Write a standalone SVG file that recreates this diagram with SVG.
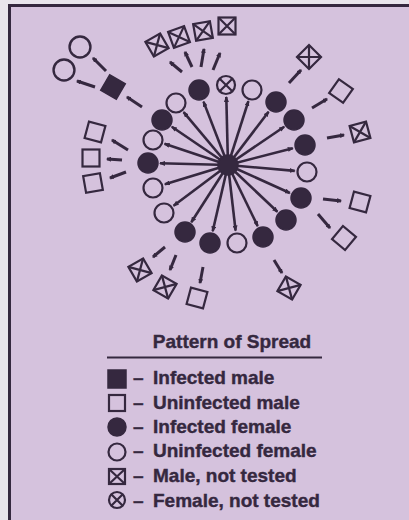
<svg xmlns="http://www.w3.org/2000/svg" xmlns:xlink="http://www.w3.org/1999/xlink" width="409" height="520" viewBox="0 0 409 520">
<style>
.ink{stroke:#35283f;stroke-width:2.2;fill:none}
.fill{fill:#35283f;stroke:#35283f;stroke-width:1.5}
.open{fill:none;stroke:#35283f;stroke-width:2.2}
.spoke{stroke:#35283f;stroke-width:2.6;fill:none;marker-end:url(#ah)}
.link{stroke:#35283f;stroke-width:3;fill:none;marker-end:url(#ah2)}
text{font-family:"Liberation Sans",Arial,sans-serif;font-weight:bold;fill:#35283f;stroke:#35283f;stroke-width:0.4;font-size:19px}
</style>
<defs>
<marker id="ah" markerUnits="userSpaceOnUse" markerWidth="6" markerHeight="5" refX="5" refY="2.5" orient="auto">
<path d="M0,0 L6,2.5 L0,5 z" fill="#35283f"/>
</marker>
<marker id="ah2" markerUnits="userSpaceOnUse" markerWidth="5" markerHeight="5" refX="4" refY="2.5" orient="auto">
<path d="M0,0 L5,2.5 L0,5 z" fill="#35283f"/>
</marker>
<g id="sq"><rect x="-8.5" y="-8.5" width="17" height="17" class="open"/></g>
<g id="sqx"><rect x="-8.5" y="-8.5" width="17" height="17" class="open"/><path d="M-8.5,-8.5 L8.5,8.5 M8.5,-8.5 L-8.5,8.5" class="ink" stroke-width="1.6"/></g>
<g id="sqf"><rect x="-9" y="-9" width="18" height="18" class="fill"/></g>
<g id="cf"><circle r="10" class="fill"/></g>
<g id="co"><circle r="9.5" class="open"/></g>
<g id="cx"><circle r="9" class="open"/><path d="M-6.3,-6.3 L6.3,6.3 M6.3,-6.3 L-6.3,6.3" class="ink" stroke-width="1.6"/></g>
</defs>
<rect width="409" height="520" fill="#e9e5ec"/>
<rect x="9" y="5" width="400" height="515" fill="#d5c2dd"/>
<path d="M9.5,520 L9.5,5.5 L409,5.5" fill="none" stroke="#35283f" stroke-width="3"/>

<g id="connectors">
<line class="spoke" x1="228" y1="165" x2="226.3" y2="97"/>
<line class="spoke" x1="228" y1="165" x2="203.5" y2="101.6"/>
<line class="spoke" x1="228" y1="165" x2="248.4" y2="101.1"/>
<line class="spoke" x1="228" y1="165" x2="268.6" y2="111.7"/>
<line class="spoke" x1="228" y1="165" x2="183.6" y2="112.1"/>
<line class="spoke" x1="228" y1="165" x2="171.8" y2="126.7"/>
<line class="spoke" x1="228" y1="165" x2="284.2" y2="126.7"/>
<line class="spoke" x1="228" y1="165" x2="164.5" y2="143.8"/>
<line class="spoke" x1="228" y1="165" x2="292.8" y2="148.2"/>
<line class="spoke" x1="228" y1="165" x2="160" y2="163.3"/>
<line class="spoke" x1="228" y1="165" x2="294.7" y2="170.9"/>
<line class="spoke" x1="228" y1="165" x2="164.9" y2="184.3"/>
<line class="spoke" x1="228" y1="165" x2="289.9" y2="193"/>
<line class="spoke" x1="228" y1="165" x2="173.6" y2="205.8"/>
<line class="spoke" x1="228" y1="165" x2="277.4" y2="211.8"/>
<line class="spoke" x1="228" y1="165" x2="191.3" y2="222.2"/>
<line class="spoke" x1="228" y1="165" x2="257.7" y2="226.1"/>
<line class="spoke" x1="228" y1="165" x2="212.7" y2="231.3"/>
<line class="spoke" x1="228" y1="165" x2="235.6" y2="230.6"/>

<line class="link" x1="142" y1="107" x2="127" y2="97"/>
<line class="link" x1="106" y1="71" x2="93" y2="58"/>
<line class="link" x1="95" y1="87" x2="77" y2="81"/>
<line class="link" x1="128" y1="150" x2="112" y2="140"/>
<line class="link" x1="122" y1="160" x2="107" y2="159"/>
<line class="link" x1="126" y1="172" x2="110" y2="178"/>
<line class="link" x1="182" y1="72" x2="170" y2="62"/>
<line class="link" x1="192" y1="67" x2="185" y2="52"/>
<line class="link" x1="201" y1="67" x2="204" y2="49"/>
<line class="link" x1="213" y1="70" x2="220" y2="53"/>
<line class="link" x1="289" y1="83" x2="301" y2="70"/>
<line class="link" x1="312" y1="108" x2="327" y2="99"/>
<line class="link" x1="327" y1="138" x2="344" y2="135"/>
<line class="link" x1="323" y1="199" x2="341" y2="201"/>
<line class="link" x1="318" y1="214" x2="330" y2="228"/>
<line class="link" x1="274" y1="260" x2="282" y2="273"/>
<line class="link" x1="165" y1="247" x2="153" y2="257"/>
<line class="link" x1="176" y1="255" x2="170" y2="270"/>
<line class="link" x1="203" y1="267" x2="200" y2="283"/>
</g>

<g id="hub"><circle cx="228" cy="165" r="10" class="fill"/></g>

<g id="ring">
<g id="r1"><use xlink:href="#cx" x="226" y="85"/></g>
<g id="r2"><use xlink:href="#cf" x="199" y="90"/></g>
<g id="r3"><use xlink:href="#co" x="252" y="90"/></g>
<g id="r4"><use xlink:href="#cf" x="276" y="102"/></g>
<g id="r5"><use xlink:href="#co" x="176" y="103"/></g>
<g id="r6"><use xlink:href="#cf" x="162" y="120"/></g>
<g id="r7"><use xlink:href="#cf" x="294" y="120"/></g>
<g id="r8"><use xlink:href="#co" x="153" y="140"/></g>
<g id="r9"><use xlink:href="#cf" x="305" y="145"/></g>
<g id="r10"><use xlink:href="#cf" x="148" y="163"/></g>
<g id="r11"><use xlink:href="#co" x="307" y="172"/></g>
<g id="r12"><use xlink:href="#co" x="153" y="188"/></g>
<g id="r13"><use xlink:href="#cf" x="301" y="198"/></g>
<g id="r14"><use xlink:href="#co" x="164" y="213"/></g>
<g id="r15"><use xlink:href="#cf" x="286" y="220"/></g>
<g id="r16"><use xlink:href="#cf" x="185" y="232"/></g>
<g id="r17"><use xlink:href="#cf" x="263" y="237"/></g>
<g id="r18"><use xlink:href="#cf" x="210" y="243"/></g>
<g id="r19"><use xlink:href="#co" x="237" y="243"/></g>
</g>

<g id="outer">
<g id="o1"><use xlink:href="#sqf" transform="translate(113,87) rotate(30)"/></g>
<g id="o2"><use xlink:href="#co" transform="translate(80,47) scale(1.1)"/></g>
<g id="o3"><use xlink:href="#co" transform="translate(64,70) scale(1.1)"/></g>
<g id="o4"><use xlink:href="#sq" transform="translate(95,132) rotate(15)"/></g>
<g id="o5"><use xlink:href="#sq" transform="translate(91,158)"/></g>
<g id="o6"><use xlink:href="#sq" transform="translate(93,183) rotate(-10)"/></g>
<g id="o7"><use xlink:href="#sqx" transform="translate(157,45) rotate(-30)"/></g>
<g id="o8"><use xlink:href="#sqx" transform="translate(179,37) rotate(-20)"/></g>
<g id="o9"><use xlink:href="#sqx" transform="translate(203,31) rotate(-10)"/></g>
<g id="o10"><use xlink:href="#sqx" transform="translate(227,26)"/></g>
<g id="o11"><use xlink:href="#sqx" transform="translate(309,57) rotate(45)"/></g>
<g id="o12"><use xlink:href="#sq" transform="translate(341,91) rotate(35)"/></g>
<g id="o13"><use xlink:href="#sqx" transform="translate(360,132) rotate(-15)"/></g>
<g id="o14"><use xlink:href="#sq" transform="translate(360,202) rotate(15)"/></g>
<g id="o15"><use xlink:href="#sq" transform="translate(344,238) rotate(40)"/></g>
<g id="o16"><use xlink:href="#sqx" transform="translate(289,288) rotate(30)"/></g>
<g id="o17"><use xlink:href="#sqx" transform="translate(140,270) rotate(-30)"/></g>
<g id="o18"><use xlink:href="#sqx" transform="translate(165,287) rotate(30)"/></g>
<g id="o19"><use xlink:href="#sq" transform="translate(197,298) rotate(15)"/></g>
</g>

<g id="legend">
<text x="232" y="348" text-anchor="middle">Pattern of Spread</text>
<line x1="107" y1="357.5" x2="322" y2="357.5" stroke="#35283f" stroke-width="2"/>
<rect x="108" y="370" width="18" height="18" class="fill"/>
<text x="133" y="384">–</text><text x="153" y="384">Infected male</text>
<rect x="109" y="395" width="16" height="16" class="open" stroke-width="1.8"/>
<text x="133" y="409">–</text><text x="153" y="409">Uninfected male</text>
<circle cx="117" cy="427" r="9" class="fill"/>
<text x="133" y="433">–</text><text x="153" y="433">Infected female</text>
<circle cx="117" cy="452" r="8.5" class="open" stroke-width="1.8"/>
<text x="133" y="457">–</text><text x="153" y="457">Uninfected female</text>
<rect x="109" y="469" width="16" height="15" class="open" stroke-width="1.8"/>
<path d="M109,469 L125,484 M125,469 L109,484" class="ink" stroke-width="1.5"/>
<text x="133" y="482">–</text><text x="153" y="482">Male, not tested</text>
<circle cx="117" cy="500" r="8" class="open" stroke-width="1.8"/>
<path d="M111.5,494.5 L122.5,505.5 M122.5,494.5 L111.5,505.5" class="ink" stroke-width="1.5"/>
<text x="133" y="507">–</text><text x="153" y="507">Female, not tested</text>
</g>
</svg>
